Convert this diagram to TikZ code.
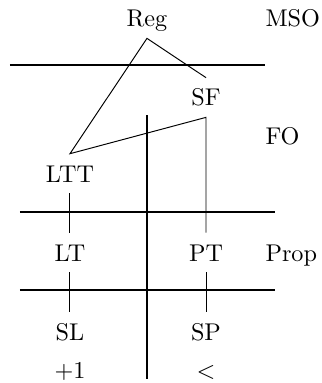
\documentclass[tikz,border=0pt]{standalone}
\usetikzlibrary{positioning}
\begin{document}
\begin{tikzpicture}[
  c/.style={anchor=base, text height=7pt, text depth=0pt, inner sep=4.5pt},
  lvl/.style={anchor=base west, inner sep=0pt},
  sep/.style={line width=0.8pt},
  edge/.style={line width=0.4pt}
]
  \useasboundingbox (0,0) rectangle (4.675,-5.561);
  % classes
  \node[c] (reg) at (2.134,-0.392) {Reg};
  \node[c] (sf) at (2.991,-1.539) {SF};
  \node[c] (ltt) at (1.016,-2.643) {LTT};
  \node[c] (lt) at (1.016,-3.790) {LT};
  \node[c] (pt) at (2.991,-3.790) {PT};
  \node[c] (sl) at (1.016,-4.937) {SL};
  \node[c] (sp) at (2.991,-4.937) {SP};
  \node[c] (succ) at (1.016,-5.489) {$+1$};
  \node[c] (less) at (2.991,-5.489) {$<$};
  % logics
  \node[lvl] (mso) at (3.848,-0.392) {MSO};
  \node[lvl] (fo) at (3.848,-2.091) {FO};
  \node[lvl] (prop) at (3.848,-3.790) {Prop};
  % separators
  \draw[sep] (0.145,-0.944) -- (3.848,-0.944);
  \draw[sep] (0.29,-3.078) -- (3.993,-3.078);
  \draw[sep] (0.29,-4.211) -- (3.993,-4.211);
  \draw[sep] (2.134,-1.670) -- (2.134,-5.503);
  % inclusions
  \draw[edge] (sf.north) -- (reg.south) -- (ltt.north) -- (sf.south) -- (pt.north);
  \draw[edge] (ltt) -- (lt);
  \draw[edge] (lt) -- (sl);
  \draw[edge] (pt) -- (sp);
\end{tikzpicture}
\end{document}
